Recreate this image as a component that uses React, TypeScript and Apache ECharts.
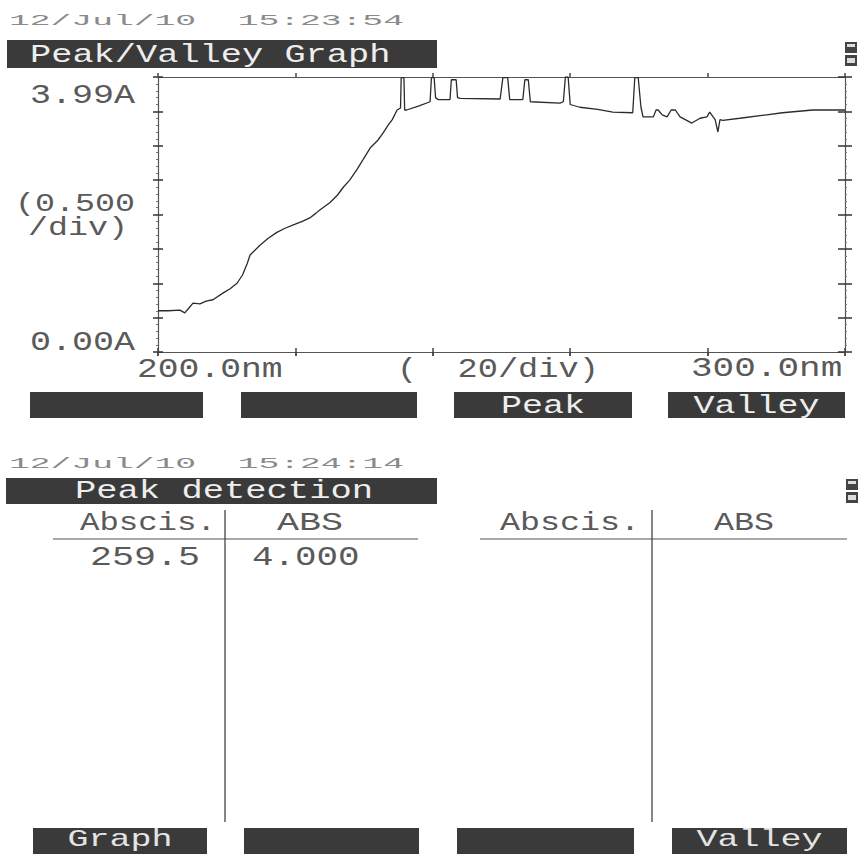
import React, { useEffect, useRef } from "react";
import * as echarts from "echarts";

// Spectrum (nm, absorbance)
const WAVELENGTH = [
  200.0, 201.5, 203.2, 203.9, 204.5, 205.1, 206.1, 207.0, 208.0, 209.5, 210.5, 211.5, 212.3, 213.0,
  213.4, 214.8, 216.0, 217.3, 218.5, 219.7, 221.0, 222.1, 223.0, 223.6, 225.0, 226.1, 227.0, 227.9,
  229.0, 229.8, 230.9, 232.0, 232.8, 233.5, 234.1, 234.8, 235.3, 235.4, 235.8, 235.9, 236.2, 238.0,
  239.6, 239.8, 240.2, 240.4, 240.8, 242.5, 242.7, 243.4, 243.6, 244.0, 249.8, 250.2, 250.9, 251.2,
  253.1, 253.4, 253.9, 254.2, 258.5, 259.0, 259.3, 259.7, 260.0, 261.4, 264.0, 266.2, 269.1, 269.4,
  269.9, 270.3, 270.6, 272.1, 272.5, 272.8, 273.4, 274.1, 274.7, 275.3, 276.0, 277.7, 278.9, 279.9,
  280.3, 281.1, 281.5, 281.8, 282.2, 284.7, 288.6, 290.9, 295.3, 300.0,
];
const ABSORBANCE = [
  0.6, 0.6, 0.61, 0.57, 0.64, 0.71, 0.7, 0.74, 0.76, 0.86, 0.92, 1.0, 1.12, 1.29,
  1.41, 1.55, 1.65, 1.74, 1.8, 1.85, 1.9, 1.95, 2.02, 2.07, 2.17, 2.28, 2.4, 2.5,
  2.66, 2.79, 2.97, 3.08, 3.19, 3.3, 3.38, 3.52, 3.55, 3.99, 3.99, 3.52, 3.52, 3.58,
  3.64, 3.99, 3.99, 3.7, 3.67, 3.67, 3.96, 3.96, 3.7, 3.69, 3.68, 3.99, 3.99, 3.67,
  3.67, 3.96, 3.96, 3.64, 3.62, 3.64, 4.0, 4.0, 3.6, 3.56, 3.53, 3.49, 3.48, 3.99,
  3.99, 3.56, 3.42, 3.42, 3.52, 3.52, 3.45, 3.42, 3.52, 3.52, 3.42, 3.33, 3.4, 3.42,
  3.49, 3.38, 3.2, 3.38, 3.37, 3.4, 3.45, 3.48, 3.52, 3.52,
];

const X_MIN = 200;
const X_MAX = 300;
const X_INTERVAL = 20;
const Y_MIN = 0;
const Y_MAX = 4;
const Y_INTERVAL = 0.5;

const Y_TICK_LABELS = ["3.99A", "0.00A"];
const X_TICK_LABELS = ["200.0nm", "300.0nm"];
const Y_UNIT = ["(0.500", "/div)"];
const X_UNIT = "(  20/div)";
const TITLE_1 = "Peak/Valley Graph";
const TITLE_2 = "Peak detection";
const STAMP_1 = "12/Jul/10  15:23:54";
const STAMP_2 = "12/Jul/10  15:24:14";
const BUTTONS_1 = ["", "", "Peak", "Valley"];
const BUTTONS_2 = ["Graph", "", "", "Valley"];
const TABLE_HEAD = ["Abscis.", "ABS"];
const PEAK_ABSCIS = ["259.5"];
const PEAK_ABS = ["4.000"];

const FONT = "'Liberation Mono', 'DejaVu Sans Mono', monospace";
const INK = "#5a5a5a";

function mono(text: string, left: number, cy: number, fs: number, charW: number, fill: string) {
  return {
    type: "text",
    x: left,
    y: cy,
    scaleX: charW / (0.6 * fs),
    z: 20,
    silent: true,
    style: {
      text,
      fontFamily: FONT,
      fontSize: fs,
      fill,
      align: "left",
      verticalAlign: "middle",
      textAlign: "left",
      textVerticalAlign: "middle",
    },
  };
}

function box(x: number, y: number, w: number, h: number, fill = "#3a3a3a") {
  return { type: "rect", shape: { x, y, width: w, height: h }, style: { fill }, z: 5, silent: true };
}

function vline(x: number, y1: number, y2: number) {
  return { type: "line", shape: { x1: x, y1, x2: x, y2 }, style: { stroke: "#444", lineWidth: 1.3 }, z: 5 };
}
function hline(y: number, x1: number, x2: number) {
  return { type: "line", shape: { x1, y1: y, x2, y2: y }, style: { stroke: "#555", lineWidth: 1.2 }, z: 5 };
}

function icon(x: number, y: number) {
  return [
    box(x, y, 12, 11, "#444"),
    box(x + 2, y + 2, 8, 3, "#ddd"),
    box(x, y + 13, 12, 11, "#444"),
    box(x + 2, y + 16, 8, 5, "#ddd"),
  ];
}

const GRID = { left: 158, top: 77, width: 687, height: 275 };

export default function App() {
  const ref = useRef<HTMLDivElement>(null);

  useEffect(() => {
    if (!ref.current) return;
    const chart = echarts.init(ref.current, undefined, { renderer: "svg" });

    const axisLineStyle = { color: "#555", width: 1.2 };
    const baseX = {
      type: "value",
      min: X_MIN,
      max: X_MAX,
      interval: X_INTERVAL,
      axisLabel: { show: false },
      splitLine: { show: false },
    };
    const baseY = {
      type: "value",
      min: Y_MIN,
      max: Y_MAX,
      interval: Y_INTERVAL,
      axisLabel: { show: false },
      splitLine: { show: false },
    };

    const data = WAVELENGTH.map((w, i) => [w, ABSORBANCE[i]]);

    const btnRects1 = [
      [30, 173],
      [241, 176],
      [454, 178],
      [668, 177],
    ];
    const btnRects2 = [
      [33, 174],
      [244, 175],
      [457, 177],
      [672, 175],
    ];

    const graphics: any[] = [
      mono(STAMP_1, 9, 21, 15, 20.8, "#8a8a8a"),
      box(7, 40, 430, 28),
      mono(TITLE_1, 30, 55, 26, 21.2, "#eeeeee"),
      ...icon(845, 42),
      mono(Y_TICK_LABELS[0], 30, 96, 28, 21, INK),
      mono(Y_UNIT[0], 15, 204, 25, 20, INK),
      mono(Y_UNIT[1], 28, 228, 25, 20, INK),
      mono(Y_TICK_LABELS[1], 30, 343, 28, 21, INK),
      mono(X_TICK_LABELS[0], 137, 369, 28, 20.8, INK),
      mono(X_UNIT, 397, 369, 28, 20.2, INK),
      mono(X_TICK_LABELS[1], 691, 369, 28, 21.6, INK),
      mono(STAMP_2, 9, 464, 15, 20.8, "#8a8a8a"),
      box(6, 478, 431, 26),
      mono(TITLE_2, 75, 491, 26, 21.3, "#eeeeee"),
      ...icon(846, 479),
      mono(TABLE_HEAD[0], 80, 523, 26, 19.4, INK),
      mono(TABLE_HEAD[1], 277, 523, 26, 22, INK),
      mono(TABLE_HEAD[0], 500, 523, 26, 20, INK),
      mono(TABLE_HEAD[1], 714, 523, 26, 20, INK),
      hline(539, 53, 418),
      hline(539, 480, 847),
      vline(225, 510, 822),
      vline(652, 510, 822),
      mono(PEAK_ABSCIS[0], 90, 558, 27, 22, INK),
      mono(PEAK_ABS[0], 252, 558, 27, 21.5, INK),
    ];

    btnRects1.forEach(([x, w], i) => {
      graphics.push(box(x, 392, w, 26));
      if (BUTTONS_1[i]) {
        const n = BUTTONS_1[i].length;
        graphics.push(mono(BUTTONS_1[i], x + w / 2 - (n * 21) / 2, 406, 26, 21, "#eeeeee"));
      }
    });
    btnRects2.forEach(([x, w], i) => {
      graphics.push(box(x, 828, w, 26));
      if (BUTTONS_2[i]) {
        const n = BUTTONS_2[i].length;
        graphics.push(mono(BUTTONS_2[i], x + w / 2 - (n * 21) / 2, 840, 23, 21, "#e4e4e4"));
      }
    });

    chart.setOption({
      animation: false,
      backgroundColor: "#ffffff",
      grid: { ...GRID, containLabel: false },
      xAxis: [
        { ...baseX, position: "bottom", axisLine: { show: true, onZero: false, lineStyle: axisLineStyle }, axisTick: { show: true, length: 4, lineStyle: { color: "#444", width: 1.5 } } },
        { ...baseX, position: "top", axisLine: { show: true, onZero: false, lineStyle: axisLineStyle }, axisTick: { show: true, length: 4, lineStyle: { color: "#444", width: 1.5 } } },
        { ...baseX, position: "bottom", axisLine: { show: false }, axisTick: { show: true, inside: true, length: 4, lineStyle: { color: "#444", width: 1.5 } } },
        { ...baseX, position: "top", axisLine: { show: false }, axisTick: { show: true, inside: true, length: 4, lineStyle: { color: "#444", width: 1.5 } } },
      ],
      yAxis: [
        { ...baseY, position: "left", axisLine: { show: true, onZero: false, lineStyle: axisLineStyle }, axisTick: { show: true, length: 5, lineStyle: { color: "#333", width: 1.5 } }, minorTick: { show: true, splitNumber: 5, length: 2, lineStyle: { color: "#777" } } },
        { ...baseY, position: "right", axisLine: { show: true, onZero: false, lineStyle: axisLineStyle }, axisTick: { show: true, length: 7, lineStyle: { color: "#333", width: 1.5 } }, minorTick: { show: true, splitNumber: 5, length: 2, lineStyle: { color: "#777" } } },
        { ...baseY, position: "left", axisLine: { show: false }, axisTick: { show: true, inside: true, length: 5, lineStyle: { color: "#333", width: 1.5 } } },
        { ...baseY, position: "right", axisLine: { show: false }, axisTick: { show: true, inside: true, length: 7, lineStyle: { color: "#333", width: 1.5 } } },
      ],
      series: [
        {
          type: "line",
          xAxisIndex: 0,
          yAxisIndex: 0,
          data,
          showSymbol: false,
          symbol: "none",
          lineStyle: { color: "#2b2b2b", width: 1.3 },
          silent: true,
        },
      ],
      graphic: graphics,
    });

    return () => chart.dispose();
  }, []);

  return (
    <div
      ref={ref}
      style={{ position: "fixed", left: 0, top: 0, width: 859, height: 854, background: "#fff" }}
    />
  );
}
